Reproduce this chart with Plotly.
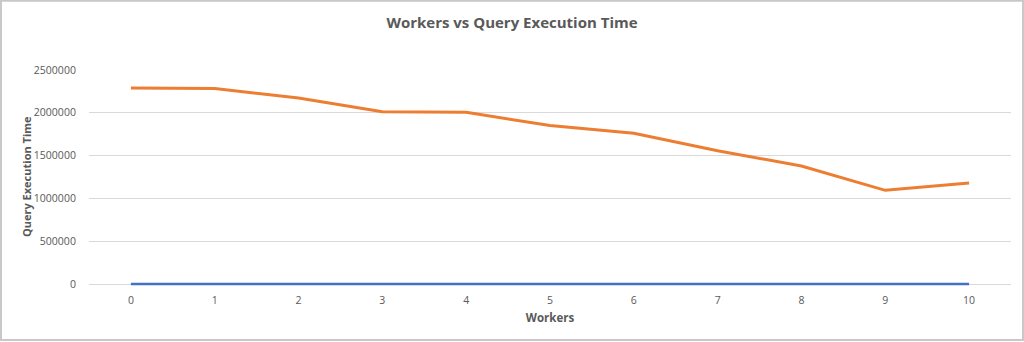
import plotly.graph_objects as go

workers = [0, 1, 2, 3, 4, 5, 6, 7, 8, 9, 10]
query_time = [2290000, 2283000, 2172000, 2012000, 2005000, 1852000, 1760000, 1557000, 1378000, 1094000, 1180000]
y_ticks = [0, 500000, 1000000, 1500000, 2000000, 2500000]

FONT = "Open Sans"
GREY = "#595959"

W, H = 1024, 342
LEFT, RIGHT = 89, 1011          # plot area, px
Y_TOP, Y_ZERO = 70, 284         # px of 2500000 and 0
Y_MAX = 2500000
PAD = 3                         # px below zero so the line at 0 is not clipped
y_min = -PAD * Y_MAX / (Y_ZERO - Y_TOP)
plot_w = RIGHT - LEFT
plot_h = Y_ZERO + PAD - Y_TOP

fig = go.Figure()
fig.add_trace(go.Scatter(
    x=workers, y=workers, mode="lines", name="Workers",
    line=dict(color="#4472C4", width=2.6),
))
fig.add_trace(go.Scatter(
    x=workers, y=query_time, mode="lines", name="Query Execution Time",
    line=dict(color="#ED7D31", width=3),
))

fig.update_layout(
    width=W, height=H,
    margin=dict(l=LEFT, r=W - RIGHT, t=Y_TOP, b=H - Y_ZERO - PAD),
    paper_bgcolor="white", plot_bgcolor="white",
    showlegend=False,
    title=dict(
        text="<b>Workers vs Query Execution Time</b>",
        x=0.5, xanchor="center", y=1 - 23 / H, yanchor="middle",
        font=dict(family=FONT, size=15, color=GREY),
    ),
    font=dict(family=FONT, color=GREY),
)
fig.update_xaxes(
    range=[-0.5, 10.5],
    tickmode="array", tickvals=workers, ticktext=[str(w) for w in workers],
    showgrid=False, zeroline=False, showline=False,
    ticks="outside", ticklen=3, tickcolor="rgba(0,0,0,0)",
    tickfont=dict(size=10.5, color=GREY),
    title=dict(text="<b>Workers</b>", font=dict(size=11.5, color=GREY), standoff=8),
)
fig.update_yaxes(
    range=[y_min, Y_MAX],
    tickmode="array", tickvals=y_ticks, ticktext=[str(v) for v in y_ticks],
    showgrid=True, gridcolor="#D9D9D9", gridwidth=1,
    zeroline=False, showline=False,
    ticks="outside", ticklen=10, tickcolor="rgba(0,0,0,0)",
    tickfont=dict(size=10.5, color=GREY),
)
# y-axis title
fig.add_annotation(
    text="<b>Query Execution Time</b>", textangle=-90,
    xref="paper", yref="paper",
    x=(26 - LEFT) / plot_w, y=(Y_ZERO + PAD - (Y_TOP + Y_ZERO) / 2) / plot_h,
    xanchor="center", yanchor="middle", showarrow=False,
    font=dict(family=FONT, size=11, color=GREY),
)
# chart-area border
fig.add_shape(type="rect", xref="paper", yref="paper",
              x0=(1 - LEFT) / plot_w, x1=(1023 - LEFT) / plot_w,
              y0=(Y_ZERO + PAD - 340) / plot_h, y1=(Y_ZERO + PAD - 0.8) / plot_h,
              line=dict(color="#C8C8C8", width=2), fillcolor="rgba(0,0,0,0)")

fig.write_html("out.html")
